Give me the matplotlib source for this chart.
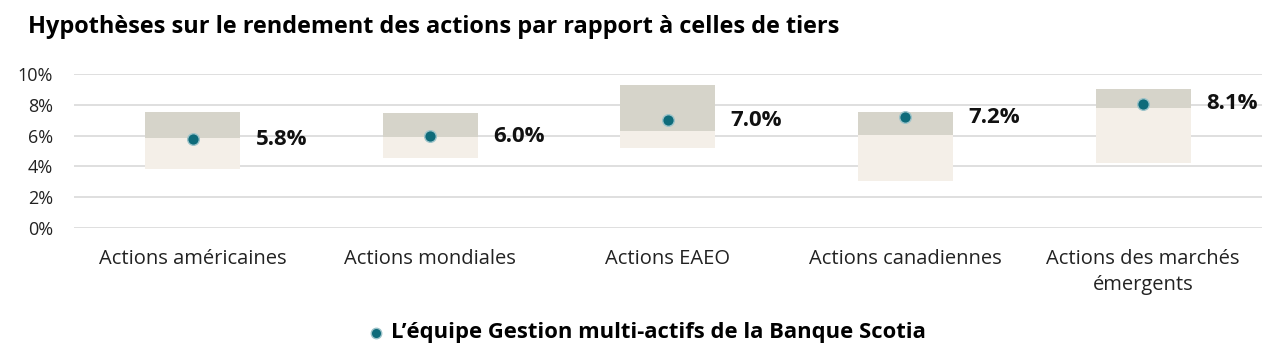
import numpy as np
import matplotlib.pyplot as plt

plt.rcParams['font.family'] = ['Open Sans', 'DejaVu Sans']

# data (in %)
categories = ['Actions américaines', 'Actions mondiales', 'Actions EAEO',
              'Actions canadiennes', 'Actions des marchés\némergents']
low = [3.84, 4.55, 5.2, 3.06, 4.23]
mid = [5.86, 5.92, 6.31, 6.05, 7.81]
high = [7.53, 7.44, 9.3, 7.53, 9.02]
scotia = [5.75, 5.96, 6.99, 7.18, 8.07]
scotia_labels = ['5.8%', '6.0%', '7.0%', '7.2%', '8.1%']

x = np.arange(len(categories))
light_col = '#f4efe8'
dark_col = '#d6d4ca'
dot_col = '#0e6b7a'

fig = plt.figure(figsize=(12.8, 3.58), dpi=100)
ax = fig.add_axes([0.0578, 0.364, 0.928, 0.429])

ax.bar(x, np.array(mid) - np.array(low), bottom=low, width=0.4, color=light_col, zorder=2)
ax.bar(x, np.array(high) - np.array(mid), bottom=mid, width=0.4, color=dark_col, zorder=2)
ax.scatter(x, scotia, s=70, color=dot_col, edgecolors='#9cc3c9', linewidths=1,
           zorder=3, label='L\u2019équipe Gestion multi-actifs de la Banque Scotia')

for xi, yi, lab in zip(x, scotia, scotia_labels):
    ax.text(xi + 0.265, yi, lab, fontsize=16, fontweight='bold', va='center', ha='left', color='#111111')

ax.set_xlim(-0.5, len(categories) - 0.5)
ax.set_ylim(0, 10)
ax.set_yticks(np.arange(0, 11, 2))
ax.set_yticklabels([f'{v}%' for v in range(0, 11, 2)])
ax.yaxis.grid(True, color='#d9d9d9', linewidth=1.2, zorder=0)
ax.set_axisbelow(True)
ax.set_xticks(x)
ax.set_xticklabels(categories, fontsize=14.5, color='#222222', linespacing=1.45)
ax.tick_params(axis='y', length=0, pad=15, labelsize=13, labelcolor='#222222')
ax.tick_params(axis='x', length=0, pad=15)
for s in ax.spines.values():
    s.set_visible(False)

fig.text(0.022, 0.925, 'Hypothèses sur le rendement des actions par rapport à celles de tiers',
         fontsize=16.9, fontweight='bold', va='center', ha='left')

fig.legend(loc='center', bbox_to_anchor=(0.5, 0.07), frameon=False,
           prop={'weight': 'bold', 'size': 15.8}, handletextpad=-0.3, markerscale=0.9)

fig.savefig('out.png', dpi=100)
